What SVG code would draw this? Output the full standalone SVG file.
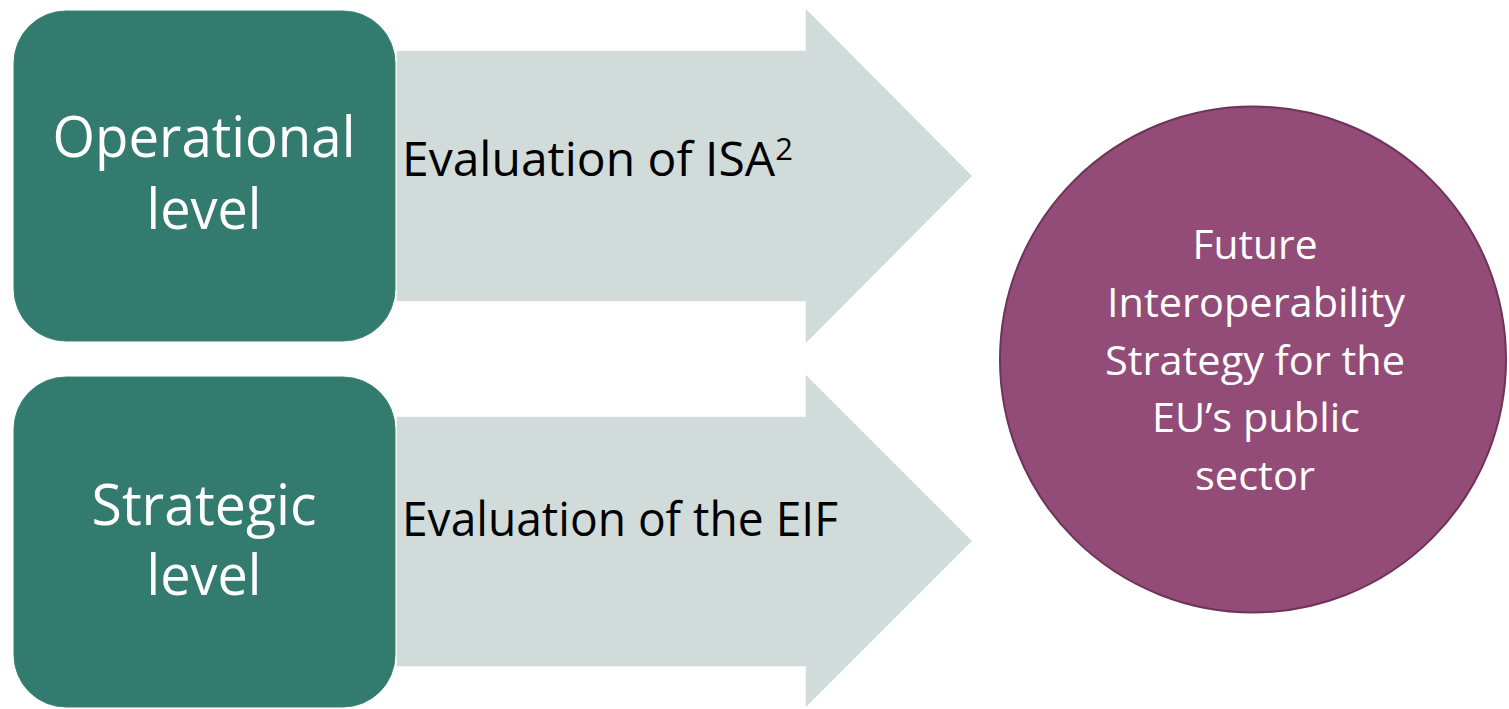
<svg xmlns="http://www.w3.org/2000/svg" width="1509" height="709" viewBox="0 0 1509 709">
<style>
.box{fill:#337B6F;stroke:#3C8478;stroke-width:1}
.arrow{fill:#D1DBDA;stroke:#FFFFFF;stroke-width:1.5}
.circ{fill:#934C77;stroke:#6E3458;stroke-width:2}
.bt{font-family:"Open Sans","Noto Sans",sans-serif;font-size:56px;fill:#FFFFFF;text-anchor:middle}
.at{font-family:"Open Sans","Noto Sans",sans-serif;font-size:48px;fill:#000000}
.sup{font-size:31px}
.ct{font-family:"Open Sans","Noto Sans",sans-serif;font-size:41px;fill:#FFFFFF;text-anchor:middle}
</style>
<rect width="1509" height="709" fill="#FFFFFF"/>
<g id="connectors">
  <g id="arrow-isa2">
    <path class="arrow" d="M396,50 L805,50 L805,7 L973,176 L805,345 L805,302 L396,302 Z"/>
    <text class="at" x="402" y="176">Evaluation of ISA<tspan class="sup" dy="-16">2</tspan></text>
  </g>
  <g id="arrow-eif">
    <path class="arrow" d="M396,416 L805,416 L805,373 L973,541 L805,709 L805,667 L396,667 Z"/>
    <text class="at" x="402" y="536" textLength="436" lengthAdjust="spacingAndGlyphs">Evaluation of the EIF</text>
  </g>
</g>
<g id="operational">
  <rect class="box" x="14" y="11" width="381" height="330" rx="52" ry="52"/>
  <text class="bt" x="204" y="157" textLength="303" lengthAdjust="spacingAndGlyphs">Operational</text>
  <text class="bt" x="204" y="229" textLength="115" lengthAdjust="spacingAndGlyphs">level</text>
</g>
<g id="strategic">
  <rect class="box" x="14" y="377" width="381" height="330" rx="52" ry="52"/>
  <text class="bt" x="204" y="525" textLength="225" lengthAdjust="spacingAndGlyphs">Strategic</text>
  <text class="bt" x="204" y="595" textLength="115" lengthAdjust="spacingAndGlyphs">level</text>
</g>
<g id="future-strategy">
  <circle class="circ" cx="1253" cy="359.5" r="253"/>
  <text class="ct" x="1255" y="259" textLength="125" lengthAdjust="spacingAndGlyphs">Future</text>
  <text class="ct" x="1256" y="317" textLength="298" lengthAdjust="spacingAndGlyphs">Interoperability</text>
  <text class="ct" x="1255" y="375" textLength="300" lengthAdjust="spacingAndGlyphs">Strategy for the</text>
  <text class="ct" x="1256" y="432" textLength="208" lengthAdjust="spacingAndGlyphs">EU’s public</text>
  <text class="ct" x="1255" y="490" textLength="120" lengthAdjust="spacingAndGlyphs">sector</text>
</g>
</svg>
